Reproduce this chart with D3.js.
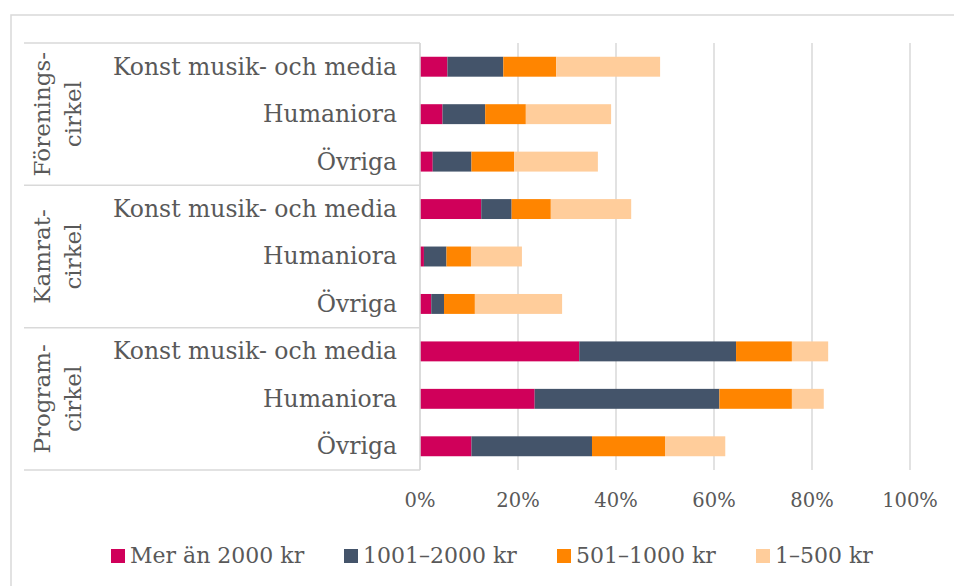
<!DOCTYPE html>
<html>
<head>
<meta charset="utf-8">
<script src="https://cdn.jsdelivr.net/npm/d3@7"></script>
<style>
  body { margin: 0; background: #fff; }
  text { font-family: "DejaVu Serif", serif; fill: #595959; }
</style>
</head>
<body>
<script>
// data, top row first
var groups = [["Förenings-", "cirkel"], ["Kamrat-", "cirkel"], ["Program-", "cirkel"]]
var categories = ["Konst musik- och media", "Humaniora", "Övriga"]
var seriesNames = ["Mer än 2000 kr", "1001–2000 kr", "501–1000 kr", "1–500 kr"]
var over2000 = [5.6, 4.6, 2.6, 12.5, 0.8, 2.3, 32.5, 23.4, 10.5]
var from1001 = [11.4, 8.7, 7.9, 6.2, 4.6, 2.6, 32.0, 37.7, 24.6]
var from501 = [10.8, 8.3, 8.7, 8.0, 5.0, 6.3, 11.4, 14.8, 14.9]
var from1 = [21.2, 17.4, 17.1, 16.4, 10.4, 17.8, 7.4, 6.5, 12.3]
var ticks = [0, 20, 40, 60, 80, 100]
var colors = ["#D0005A", "#44546A", "#FF8500", "#FFCD9B"]

var W = 954, H = 586
var svg = d3.select("body").append("svg").attr("width", W).attr("height", H)

// outer frame
svg.append("rect").attr("x", 11).attr("y", 15).attr("width", 960).attr("height", 600)
  .attr("fill", "none").attr("stroke", "#d9d9d9").attr("stroke-width", 1.5)

var plotTop = 43, plotBottom = 470, x0 = 420, x1 = 910

var rows = []
groups.forEach(function(g, gi) {
  categories.forEach(function(c, ci) {
    var i = gi * 3 + ci
    rows.push({id: i, group: gi, cat: c, values: [over2000[i], from1001[i], from501[i], from1[i]]})
  })
})

var x = d3.scaleLinear().domain([0, 100]).range([x0, x1])
var y = d3.scaleBand().domain(rows.map(d => d.id)).range([plotTop, plotBottom]).paddingInner(0.58).paddingOuter(0.29)

// grid
svg.selectAll("line.grid").data(ticks).enter().append("line")
  .attr("class", "grid")
  .attr("x1", d => x(d)).attr("x2", d => x(d))
  .attr("y1", plotTop).attr("y2", plotBottom)
  .attr("stroke", "#d9d9d9").attr("stroke-width", 1.5)

// stacked bars
var stackData = rows.map(function(r) {
  var o = {id: r.id}
  seriesNames.forEach((s, k) => o[s] = r.values[k])
  return o
})
var stack = d3.stack().keys(seriesNames)(stackData)

svg.selectAll("g.series").data(stack).enter().append("g")
  .attr("class", "series")
  .attr("fill", (d, i) => colors[i])
  .selectAll("rect").data(d => d).enter().append("rect")
  .attr("x", d => x(d[0]))
  .attr("width", d => x(d[1]) - x(d[0]))
  .attr("y", d => y(d.data.id))
  .attr("height", y.bandwidth())

// category table lines
var step = y.step()
var sepY = [0, 1, 2, 3].map(k => plotTop + k * 3 * step)
svg.selectAll("line.sep").data(sepY).enter().append("line")
  .attr("x1", 24).attr("x2", x0).attr("y1", d => d).attr("y2", d => d)
  .attr("stroke", "#d9d9d9").attr("stroke-width", 1.5)
svg.append("line").attr("x1", x0).attr("x2", x0).attr("y1", plotTop).attr("y2", plotBottom)
  .attr("stroke", "#d9d9d9").attr("stroke-width", 1.5)

// row labels
svg.selectAll("text.cat").data(rows).enter().append("text")
  .attr("x", 397)
  .attr("y", d => y(d.id) + y.bandwidth() / 2)
  .attr("dy", "0.34em")
  .attr("text-anchor", "end")
  .attr("font-size", 23.5)
  .text(d => d.cat)

// group labels, rotated
groups.forEach(function(g, gi) {
  var cy = plotTop + (gi * 3 + 1.5) * step
  var t = svg.append("text")
    .attr("transform", "translate(0," + cy + ") rotate(-90)")
    .attr("text-anchor", "middle")
    .attr("font-size", 23)
  t.append("tspan").attr("x", 0).attr("y", 50).text(g[0])
  t.append("tspan").attr("x", 0).attr("y", 81).text(g[1])
})

// x axis labels
svg.selectAll("text.tick").data(ticks).enter().append("text")
  .attr("x", d => x(d)).attr("y", 507)
  .attr("text-anchor", "middle")
  .attr("font-size", 19.5)
  .text(d => d + "%")

// legend
var legendX = [111, 344, 557, 756]
var lg = svg.selectAll("g.legend").data(seriesNames).enter().append("g")
  .attr("transform", (d, i) => "translate(" + legendX[i] + ",549)")
lg.append("rect").attr("width", 14).attr("height", 14).attr("fill", (d, i) => colors[i])
lg.append("text").attr("x", 19).attr("y", 13.5).attr("font-size", 22).text(d => d)
</script>
</body>
</html>
